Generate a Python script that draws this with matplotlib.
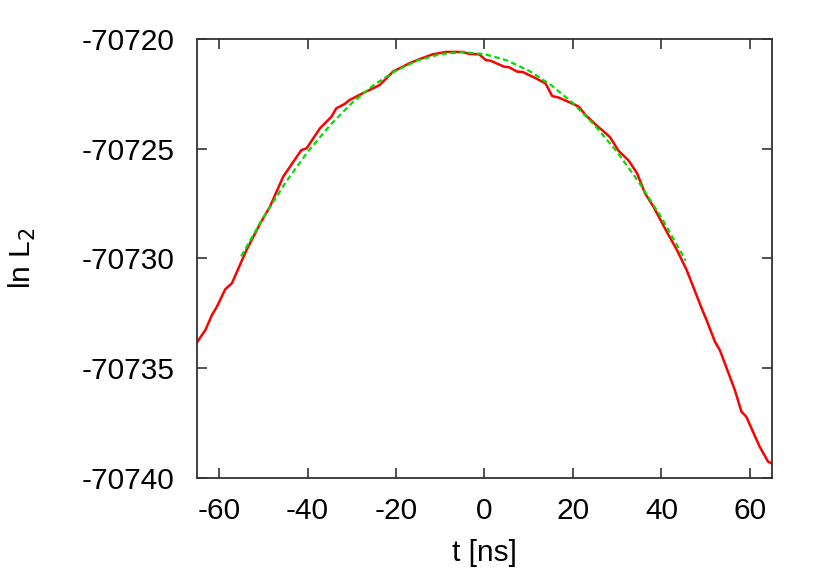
import matplotlib
matplotlib.use("Agg")
import matplotlib.pyplot as plt

plt.rcParams["font.family"] = ["Liberation Sans", "DejaVu Sans"]
plt.rcParams["axes.unicode_minus"] = False

# red curve: ln L2 vs t
t_data = [-65.4, -63.1, -61.6, -60.5, -58.6, -57.1, -53.8, -53.4, -50.7, -48.5,
          -45.5, -41.4, -40.2, -37.2, -34.6, -33.5, -31.6, -30.5, -27.5, -23.7,
          -20.7, -17.0, -14.7, -11.7, -8.7, -5.0, -3.4, -1.2, 0.3, 1.4,
          4.4, 5.6, 7.4, 8.6, 11.2, 13.8, 15.3, 16.8, 19.4, 21.3,
          22.8, 25.8, 26.6, 28.4, 30.3, 32.6, 34.5, 36.3, 38.2, 41.2,
          43.5, 45.7, 49.1, 50.2, 52.1, 53.2, 56.6, 58.1, 59.2, 62.2, 64.1, 65.0]
lnL_data = [-70733.94, -70733.26, -70732.57, -70732.20, -70731.40, -70731.13, -70729.61, -70729.46, -70728.40, -70727.64,
            -70726.27, -70725.06, -70724.98, -70724.07, -70723.54, -70723.16, -70722.96, -70722.78, -70722.47, -70722.10,
            -70721.49, -70721.11, -70720.92, -70720.70, -70720.59, -70720.59, -70720.68, -70720.70, -70720.96, -70720.99,
            -70721.26, -70721.29, -70721.49, -70721.50, -70721.75, -70722.02, -70722.60, -70722.67, -70722.90, -70723.08,
            -70723.46, -70724.02, -70724.15, -70724.48, -70725.09, -70725.54, -70726.12, -70727.03, -70727.64, -70728.78,
            -70729.61, -70730.52, -70732.27, -70732.80, -70733.79, -70734.17, -70735.99, -70736.98, -70737.21, -70738.57, -70739.25, -70739.35]

# green dashed fit
t_fit = [-55, -50, -45, -40, -35, -30, -25, -20, -15, -10, -5,
         0, 5, 10, 15, 20, 25, 30, 35, 40, 45.5]
lnL_fit = [-70729.90, -70728.13, -70726.55, -70725.15, -70723.95, -70722.92, -70722.09, -70721.44, -70720.97, -70720.69, -70720.60,
           -70720.69, -70720.97, -70721.44, -70722.09, -70722.92, -70723.95, -70725.15, -70726.55, -70728.13, -70730.10]

fig = plt.figure(figsize=(8.3, 5.81), dpi=100)
ax = fig.add_axes([0.2373, 0.1773, 0.6928, 0.7556])

ax.plot(t_data, lnL_data, color="#ff0000", lw=1.8)
ax.plot(t_fit, lnL_fit, color="#00e000", lw=1.6, dashes=(2.5, 1.5))

ax.set_xlim(-65, 65)
ax.set_ylim(-70740, -70720)
ax.set_xticks([-60, -40, -20, 0, 20, 40, 60])
ax.set_yticks([-70740, -70735, -70730, -70725, -70720])
ax.ticklabel_format(useOffset=False, style="plain", axis="y")

ax.tick_params(direction="in", top=True, right=True, length=7, width=1.2,
               labelsize=21.5, colors="#333333", labelcolor="black")
ax.tick_params(axis="y", pad=16)
ax.tick_params(axis="x", pad=14)
for s in ax.spines.values():
    s.set_linewidth(1.3)
    s.set_color("#333333")

ax.set_xlabel("t [ns]", fontsize=21.5)
ax.set_ylabel("ln L$_2$", fontsize=21.5)
ax.xaxis.set_label_coords(0.5, -0.14)
ax.yaxis.set_label_coords(-0.277, 0.5)

fig.savefig("out.png", dpi=100)
